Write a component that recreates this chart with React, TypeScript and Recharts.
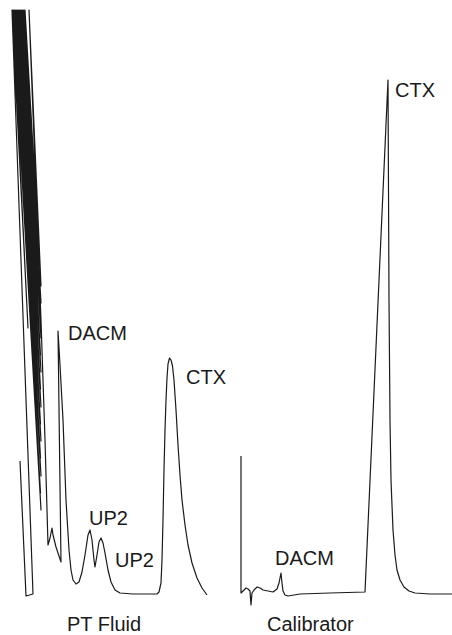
import React from 'react';
import { LineChart, Line, XAxis, YAxis, ReferenceDot } from 'recharts';

// Retention time (arbitrary units) and detector response (arbitrary units)
const ptTime = [20, 26, 33, 12, 28, 12.5, 41, 13, 40.5, 14, 41, 15, 40.5, 16, 41, 17, 40.5, 18, 41, 19, 40.5, 20, 41, 21, 40.5, 22, 41, 23, 40.5, 24, 41, 25, 41, 29, 41, 45, 48, 50, 52, 53, 56, 61, 58, 60, 63, 66, 69, 71, 73, 76, 79, 82, 85, 88, 90, 92, 94, 95, 97, 99, 101, 103, 105, 108, 111, 115, 120, 133, 157, 159, 161, 162, 163, 164, 165, 166, 167, 168, 169.5, 171, 172.5, 174, 176, 178, 180, 182, 185, 188, 192, 197, 202, 207];
const ptSignal = [174, 39, 41, 625, 307, 625, 125, 625, 142, 625, 159, 625, 177, 625, 194, 625, 211, 625, 228, 625, 246, 625, 263, 625, 280, 625, 297, 625, 315, 625, 332, 625, 349, 625, 315, 195, 90, 97, 107, 100, 88, 73, 304, 270, 215, 135, 85, 65, 55, 51, 53, 63, 80, 100, 105, 95, 75, 68, 80, 93, 97, 92, 82, 65, 53, 45, 42, 41, 41, 43, 52, 75, 115, 165, 205, 235, 257, 271, 277, 275, 269, 255, 225, 190, 160, 135, 110, 90, 72, 57, 47, 40];

const calTime = [241, 241, 243, 246, 248, 250, 251, 252, 254, 257, 260, 263, 268, 273, 277, 279, 281, 282, 283, 285, 288, 300, 330, 365, 388, 389, 390, 391, 393, 395, 397, 400, 404, 409, 415, 430, 452];
const calSignal = [179, 42, 44, 47, 46, 44, 30, 42, 45, 48, 47, 45, 44, 43, 46, 52, 62, 52, 44, 40, 39, 41, 42, 43, 555, 335, 215, 155, 105, 80, 65, 55, 48, 44, 42, 41, 41];

const peakLabels = ['DACM', 'UP2', 'UP2', 'CTX', 'DACM', 'CTX'];
const peakLabelTime = [68, 89, 115, 186, 275, 395];
const peakLabelSignal = [295, 110, 68, 251, 70, 538];

const sampleLabels = ['PT Fluid', 'Calibrator'];
const sampleLabelTime = [67, 267];
const sampleLabelSignal = [4, 4];

const ptData = ptTime.map((t, i) => ({ t, s: ptSignal[i] }));
const calData = calTime.map((t, i) => ({ t, s: calSignal[i] }));

const INK = '#1a1a1a';
const FONT = '"Liberation Sans", Arial, Helvetica, sans-serif';

const textShape = (text: string) => (props: any) => (
  <text x={props.cx} y={props.cy} fill={INK} fontFamily={FONT} fontSize={20} textAnchor="start">
    {text}
  </text>
);

export default function App() {
  return (
    <div style={{ position: 'absolute', left: 0, top: 0, width: 452, height: 635, background: '#fff' }}>
      <LineChart width={452} height={635} margin={{ top: 0, right: 0, bottom: 0, left: 0 }}>
        <XAxis type="number" dataKey="t" domain={[0, 452]} hide allowDataOverflow />
        <YAxis type="number" dataKey="s" domain={[0, 635]} hide allowDataOverflow />
        <Line data={ptData} dataKey="s" type="linear" stroke={INK} strokeWidth={1.2} strokeLinejoin="round" dot={false} activeDot={false} isAnimationActive={false} />
        <Line data={calData} dataKey="s" type="linear" stroke={INK} strokeWidth={1.2} strokeLinejoin="round" dot={false} activeDot={false} isAnimationActive={false} />
        {peakLabels.map((txt, i) => (
          <ReferenceDot key={'p' + i} x={peakLabelTime[i]} y={peakLabelSignal[i]} r={0} ifOverflow="visible" shape={textShape(txt)} />
        ))}
        {sampleLabels.map((txt, i) => (
          <ReferenceDot key={'s' + i} x={sampleLabelTime[i]} y={sampleLabelSignal[i]} r={0} ifOverflow="visible" shape={textShape(txt)} />
        ))}
      </LineChart>
    </div>
  );
}
